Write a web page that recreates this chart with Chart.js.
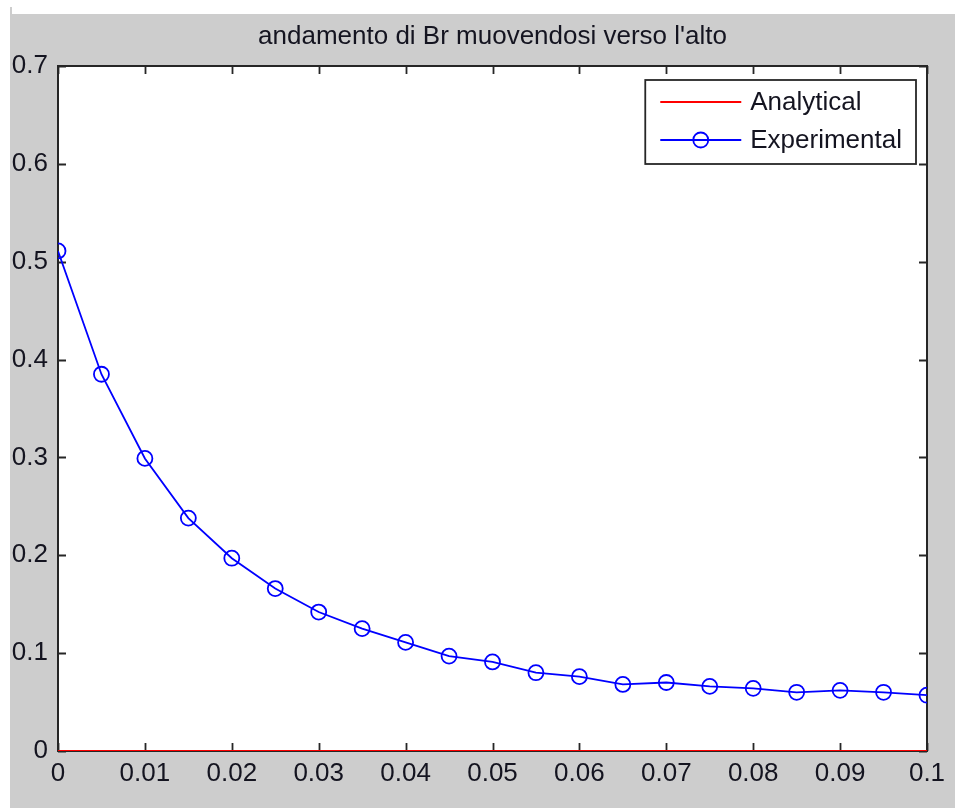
<!DOCTYPE html>
<html>
<head>
<meta charset="utf-8">
<script src="https://cdn.jsdelivr.net/npm/chart.js@4.4.1/dist/chart.umd.min.js"></script>
<style>
  html, body { margin: 0; padding: 0; background: #ffffff; width: 955px; height: 808px; overflow: hidden; }
  #edge { position: absolute; left: 10px; top: 7px; width: 2px; height: 7px; background: #cdcdcd; }
  #fig { position: absolute; left: 10px; top: 14px; width: 945px; height: 794px; background: #cdcdcd; }
  canvas { display: block; }
</style>
</head>
<body>
<div id="edge"></div>
<div id="fig"><canvas id="c" width="945" height="794"></canvas></div>
<script>
// Sampled positions along the path and the measured / analytical Br values
const distance = [0, 0.005, 0.01, 0.015, 0.02, 0.025, 0.03, 0.035, 0.04, 0.045, 0.05,
                  0.055, 0.06, 0.065, 0.07, 0.075, 0.08, 0.085, 0.09, 0.095, 0.1];
const analytical = [0, 0, 0, 0, 0, 0, 0, 0, 0, 0, 0, 0, 0, 0, 0, 0, 0, 0, 0, 0, 0];
const experimental = [0.511, 0.385, 0.299, 0.238, 0.197, 0.166, 0.142, 0.125, 0.111, 0.097, 0.091,
                      0.080, 0.076, 0.068, 0.070, 0.066, 0.064, 0.060, 0.062, 0.060, 0.057];
const seriesNames = ['Analytical', 'Experimental'];
const titleText = "andamento di Br muovendosi verso l'alto";

const FONT = '"Liberation Sans", Arial, Helvetica, sans-serif';
const INK = '#141420';
const AXIS = '#262626';

// White axes background
const axesBackground = {
  id: 'axesBackground',
  beforeDraw(chart) {
    const { ctx, chartArea: a } = chart;
    ctx.save();
    ctx.fillStyle = '#ffffff';
    ctx.fillRect(a.left, a.top, a.right - a.left, a.bottom - a.top);
    ctx.restore();
  }
};

// Boxed axes with inward tick marks on all four sides
const axesFrame = {
  id: 'axesFrame',
  beforeDatasetsDraw(chart) {
    const { ctx, chartArea: a, scales } = chart;
    const len = 8;
    ctx.save();
    ctx.strokeStyle = AXIS;
    ctx.lineWidth = 1.8;
    ctx.beginPath();
    scales.x.ticks.forEach(t => {
      const px = Math.round(scales.x.getPixelForValue(t.value)) + 0.5;
      ctx.moveTo(px, a.bottom); ctx.lineTo(px, a.bottom - len);
      ctx.moveTo(px, a.top); ctx.lineTo(px, a.top + len);
    });
    scales.y.ticks.forEach(t => {
      const py = Math.round(scales.y.getPixelForValue(t.value)) + 0.5;
      ctx.moveTo(a.left, py); ctx.lineTo(a.left + len, py);
      ctx.moveTo(a.right, py); ctx.lineTo(a.right - len, py);
    });
    ctx.stroke();
    ctx.lineWidth = 2;
    ctx.strokeRect(a.left, a.top, a.right - a.left, a.bottom - a.top);
    ctx.restore();
  }
};

// Legend box in the upper right corner of the axes
const boxedLegend = {
  id: 'boxedLegend',
  afterDatasetsDraw(chart) {
    const { ctx, chartArea: a } = chart;
    const sets = chart.data.datasets;
    ctx.save();
    ctx.font = '26px ' + FONT;
    const tw = Math.max(...sets.map(d => ctx.measureText(d.label).width));
    const w = 105 + tw + 14, h = 84;
    const x0 = a.right - 11 - w, y0 = a.top + 14;
    ctx.fillStyle = '#ffffff';
    ctx.fillRect(x0, y0, w, h);
    ctx.strokeStyle = AXIS;
    ctx.lineWidth = 1.8;
    ctx.strokeRect(x0, y0, w, h);
    sets.forEach((d, i) => {
      const cy = y0 + 22 + i * 38;
      ctx.strokeStyle = d.borderColor;
      ctx.lineWidth = d.borderWidth;
      ctx.beginPath();
      ctx.moveTo(x0 + 15, cy); ctx.lineTo(x0 + 96, cy);
      ctx.stroke();
      if (d.pointRadius > 0) {
        ctx.strokeStyle = d.pointBorderColor;
        ctx.lineWidth = d.pointBorderWidth;
        ctx.beginPath();
        ctx.arc(x0 + 55.5, cy, d.pointRadius, 0, Math.PI * 2);
        ctx.stroke();
      }
      ctx.fillStyle = INK;
      ctx.textAlign = 'left';
      ctx.textBaseline = 'middle';
      ctx.fillText(d.label, x0 + 105, cy + 1);
    });
    ctx.restore();
  }
};

const toPoints = ys => distance.map((x, i) => ({ x, y: ys[i] }));

new Chart(document.getElementById('c'), {
  type: 'line',
  data: {
    datasets: [
      {
        label: seriesNames[0],
        data: toPoints(analytical),
        borderColor: '#ff0000',
        borderWidth: 2.2,
        pointRadius: 0,
        pointHoverRadius: 0,
        tension: 0
      },
      {
        label: seriesNames[1],
        data: toPoints(experimental),
        borderColor: '#0000ff',
        borderWidth: 1.8,
        pointRadius: 7.5,
        pointHoverRadius: 7.5,
        pointBorderColor: '#0000ff',
        pointBorderWidth: 1.8,
        pointBackgroundColor: 'rgba(0,0,0,0)',
        tension: 0
      }
    ]
  },
  options: {
    responsive: false,
    animation: false,
    devicePixelRatio: 1,
    layout: { padding: { left: 0, right: 28, top: 0, bottom: 0 } },
    plugins: {
      legend: { display: false },
      tooltip: { enabled: false },
      title: {
        display: true,
        text: titleText,
        fullSize: false,
        color: INK,
        font: { family: FONT, size: 26, weight: 'normal', lineHeight: 1.2 },
        padding: { top: 6.8, bottom: 14 }
      }
    },
    scales: {
      x: {
        type: 'linear',
        min: 0,
        max: 0.1,
        afterFit: s => { s.height = 57; },
        grid: { display: false, drawTicks: false, tickLength: 0 },
        border: { display: false },
        ticks: {
          stepSize: 0.01,
          autoSkip: false,
          maxRotation: 0,
          padding: 7,
          color: INK,
          font: { family: FONT, size: 26 },
          callback: v => String(Number(v.toFixed(2)))
        }
      },
      y: {
        type: 'linear',
        min: 0,
        max: 0.7,
        afterFit: s => { s.width = 48; },
        grid: { display: false, drawTicks: false, tickLength: 0 },
        border: { display: false },
        ticks: {
          stepSize: 0.1,
          autoSkip: false,
          padding: 10,
          color: INK,
          font: { family: FONT, size: 26 },
          callback: v => String(Number(v.toFixed(1)))
        }
      }
    }
  },
  plugins: [axesBackground, axesFrame, boxedLegend]
});
</script>
</body>
</html>
